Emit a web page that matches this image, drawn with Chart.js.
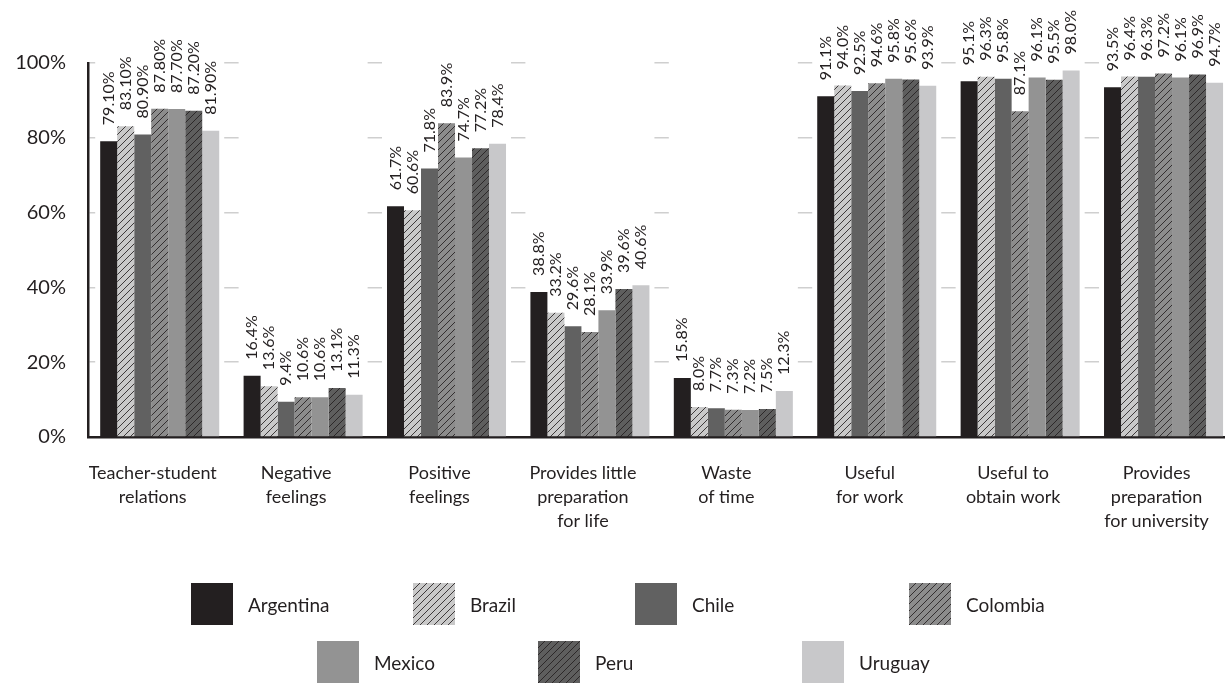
<!DOCTYPE html>
<html>
<head>
<meta charset="utf-8">
<script src="https://cdn.jsdelivr.net/npm/chart.js@4.4.1/dist/chart.umd.min.js"></script>
<style>
  html, body { margin: 0; padding: 0; background: #fff; overflow: hidden; }
  #wrap { position: absolute; left: 0; top: 0; width: 1240px; height: 696px; }
  #legend { position: absolute; left: 0; top: 0; width: 1225px; height: 696px; pointer-events: none; }
  .item { position: absolute; display: flex; align-items: center; height: 42px;
          font-family: Lato, "Open Sans", sans-serif; font-size: 19px; color: #231f20; }
  .item canvas { width: 42px; height: 42px; margin-right: 15px; display: block; }
</style>
</head>
<body>
<div id="wrap"><canvas id="chart"></canvas></div>
<div id="legend"></div>
<script>
// Survey categories (x axis) and percentage of students per country
const categories = [
  ["Teacher-student", "relations"],
  ["Negative", "feelings"],
  ["Positive", "feelings"],
  ["Provides little", "preparation", "for life"],
  ["Waste", "of time"],
  ["Useful", "for work"],
  ["Useful to", "obtain work"],
  ["Provides", "preparation", "for university"]
];
// decimals shown in each category's value labels
const labelDecimals = [2, 1, 1, 1, 1, 1, 1, 1];

const countries = ["Argentina", "Brazil", "Chile", "Colombia", "Mexico", "Peru", "Uruguay"];

const argentina = [79.1, 16.4, 61.7, 38.8, 15.8, 91.1, 95.1, 93.5];
const brazil    = [83.1, 13.6, 60.6, 33.2,  8.0, 94.0, 96.3, 96.4];
const chile     = [80.9,  9.4, 71.8, 29.6,  7.7, 92.5, 95.8, 96.3];
const colombia  = [87.8, 10.6, 83.9, 28.1,  7.3, 94.6, 87.1, 97.2];
const mexico    = [87.7, 10.6, 74.7, 33.9,  7.2, 95.8, 96.1, 96.1];
const peru      = [87.2, 13.1, 77.2, 39.6,  7.5, 95.6, 95.5, 96.9];
const uruguay   = [81.9, 11.3, 78.4, 40.6, 12.3, 93.9, 98.0, 94.7];

const yTicks = [0, 20, 40, 60, 80, 100];

// Fill styles: solid greys, or grey with fine diagonal hatching
const styles = [
  { fill: "#231f20", hatch: false },
  { fill: "#c9c9c9", hatch: true },
  { fill: "#616161", hatch: false },
  { fill: "#8c8c8c", hatch: true },
  { fill: "#939393", hatch: false },
  { fill: "#5e5e5e", hatch: true },
  { fill: "#c8c8ca", hatch: false }
];

function makeHatch(bg) {
  const s = 7;
  const c = document.createElement("canvas");
  c.width = s; c.height = s;
  const g = c.getContext("2d");
  g.fillStyle = bg;
  g.fillRect(0, 0, s, s);
  g.strokeStyle = "#231f20";
  g.lineWidth = 0.85;
  g.beginPath();
  g.moveTo(0, s); g.lineTo(s, 0);
  g.moveTo(-s / 2, s / 2); g.lineTo(s / 2, -s / 2);
  g.moveTo(s / 2, s * 1.5); g.lineTo(s * 1.5, s / 2);
  g.stroke();
  return g.createPattern(c, "repeat");
}

const fills = styles.map(st => st.hatch ? makeHatch(st.fill) : st.fill);
const seriesData = [argentina, brazil, chile, colombia, mexico, peru, uruguay];

const FONT = "Lato, 'Open Sans', sans-serif";

// White band behind each group so the grid shows only between groups
const groupMask = {
  id: "groupMask",
  beforeDatasetsDraw(chart) {
    const ctx = chart.ctx, area = chart.chartArea;
    const first = chart.getDatasetMeta(0).data;
    const last = chart.getDatasetMeta(chart.data.datasets.length - 1).data;
    ctx.save();
    ctx.fillStyle = "#fff";
    first.forEach((bar, i) => {
      const l = bar.x - bar.width / 2 - 5;
      const r = last[i].x + last[i].width / 2 + 5;
      ctx.fillRect(l, area.top - 2, r - l, area.bottom - area.top);
    });
    ctx.restore();
  }
};

// Vertical value labels above each bar
const valueLabels = {
  id: "valueLabels",
  afterDatasetsDraw(chart) {
    const ctx = chart.ctx;
    ctx.save();
    ctx.font = "16px " + FONT;
    ctx.fillStyle = "#231f20";
    ctx.textAlign = "left";
    ctx.textBaseline = "middle";
    chart.data.datasets.forEach((ds, di) => {
      chart.getDatasetMeta(di).data.forEach((bar, i) => {
        const txt = ds.data[i].toFixed(labelDecimals[i]) + "%";
        ctx.save();
        ctx.translate(bar.x, bar.y - 16);
        ctx.rotate(-Math.PI / 2);
        ctx.fillText(txt, 0, 0);
        ctx.restore();
      });
    });
    ctx.restore();
  }
};

const chart = new Chart(document.getElementById("chart"), {
  type: "bar",
  data: {
    labels: categories,
    datasets: countries.map((name, i) => ({
      label: name,
      data: seriesData[i],
      backgroundColor: fills[i],
      borderWidth: 0,
      barPercentage: 1,
      categoryPercentage: 0.83
    }))
  },
  options: {
    responsive: true,
    maintainAspectRatio: false,
    animation: false,
    layout: { padding: { top: 63, right: 2, left: 0, bottom: 139 } },
    plugins: { legend: { display: false }, tooltip: { enabled: false } },
    scales: {
      x: {
        z: 1,
        grid: { display: false, drawTicks: false },
        border: { display: true, color: "#231f20", width: 2.5 },
        ticks: {
          color: "#231f20",
          font: { family: FONT, size: 18, lineHeight: 1.33 },
          padding: 24,
          labelOffset: -7,
          maxRotation: 0,
          autoSkip: false
        },
        afterFit(scale) { scale.height = 120; }
      },
      y: {
        min: 0, max: 100,
        afterBuildTicks(scale) { scale.ticks = yTicks.map(v => ({ value: v })); },
        grid: { color: "#cfcfcf", lineWidth: 1.5, drawTicks: false },
        border: { display: true, color: "#231f20", width: 2.5 },
        ticks: {
          color: "#231f20",
          font: { family: FONT, size: 20 },
          padding: 22,
          callback: v => v + "%"
        },
        afterFit(scale) { scale.width = 88; }
      }
    }
  },
  plugins: [groupMask, valueLabels]
});

// Legend in two rows, built from the chart's datasets
const legendSlots = [
  { left: 191, top: 583 }, { left: 413, top: 583 }, { left: 635, top: 583 }, { left: 909, top: 583 },
  { left: 317, top: 641 }, { left: 538, top: 641 }, { left: 802, top: 641 }
];
const legendEl = document.getElementById("legend");
chart.data.datasets.forEach((ds, i) => {
  const item = document.createElement("div");
  item.className = "item";
  item.style.left = legendSlots[i].left + "px";
  item.style.top = legendSlots[i].top + "px";
  const sw = document.createElement("canvas");
  sw.width = 42; sw.height = 42;
  const g = sw.getContext("2d");
  g.fillStyle = ds.backgroundColor;
  g.fillRect(0, 0, 42, 42);
  const span = document.createElement("span");
  span.textContent = ds.label;
  item.appendChild(sw);
  item.appendChild(span);
  legendEl.appendChild(item);
});
</script>
</body>
</html>
